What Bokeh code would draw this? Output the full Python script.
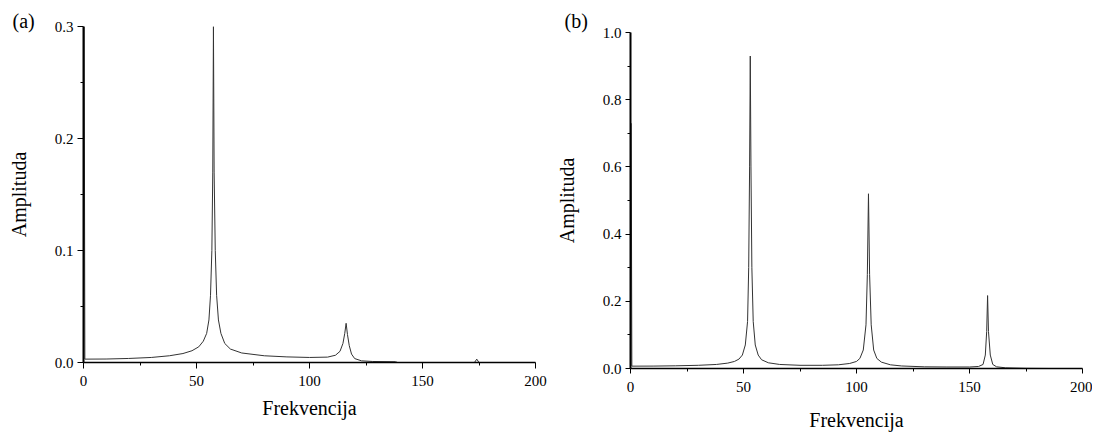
from bokeh.plotting import figure
from bokeh.layouts import row, column
from bokeh.models import Range1d, FixedTicker, Title, NumeralTickFormatter
from bokeh.embed import file_html
from bokeh.resources import INLINE

# ---------------- data ----------------
a_freq = [0.3, 0.6, 10, 20, 30, 38, 44, 48, 51, 53, 54.5, 55.5, 56.2, 56.8, 57.2, 57.5,
          57.8, 58.3, 58.9, 59.7, 60.8, 62.5, 65, 70, 80, 90, 100, 108, 111.5, 113.5,
          114.8, 115.6, 116.2, 116.8, 117.6, 118.6, 120, 123, 128, 138, 139, 173, 174,
          175, 200]
a_amp = [0.30, 0.0030, 0.0031, 0.0036, 0.0045, 0.0060, 0.0080, 0.0105, 0.0140, 0.0190,
         0.0260, 0.0380, 0.060, 0.100, 0.170, 0.300, 0.170, 0.100, 0.060, 0.038, 0.026,
         0.017, 0.012, 0.0085, 0.0060, 0.0050, 0.0045, 0.0048, 0.0065, 0.0100, 0.0170,
         0.0260, 0.0350, 0.0250, 0.0150, 0.0075, 0.0035, 0.0015, 0.0009, 0.0007, 0.0,
         0.0, 0.003, 0.0, 0.0]

b_freq = [0.3, 0.6, 10, 20, 30, 38, 43, 46, 48, 49.5, 50.8, 51.8, 52.3, 52.7, 53.0, 53.3,
          53.7, 54.3, 55.2, 56.5, 58, 61, 66, 75, 85, 92, 97, 100, 101.5, 103, 104.2,
          104.8, 105.3, 105.8, 106.5, 107.6, 109, 111, 115, 120, 130, 140, 150, 154, 156,
          157, 157.6, 158.0, 158.4, 159.2, 160.3, 162, 166, 175, 185, 200]
b_amp = [0.73, 0.007, 0.0072, 0.008, 0.0095, 0.012, 0.016, 0.021, 0.028, 0.040, 0.070,
         0.140, 0.300, 0.600, 0.930, 0.600, 0.300, 0.140, 0.070, 0.040, 0.026, 0.017,
         0.012, 0.0095, 0.0095, 0.011, 0.015, 0.021, 0.030, 0.055, 0.130, 0.280, 0.520,
         0.280, 0.130, 0.055, 0.030, 0.019, 0.011, 0.0075, 0.005, 0.0045, 0.0045, 0.006,
         0.012, 0.040, 0.110, 0.217, 0.110, 0.040, 0.012, 0.005, 0.002, 0.0005, 0.0, 0.0]

x_ticks = [0, 50, 100, 150, 200]
x_minor = [25, 75, 125, 175]
a_y_ticks = [0.0, 0.1, 0.2, 0.3]
a_y_minor = [0.05, 0.15, 0.25]
b_y_ticks = [0.0, 0.2, 0.4, 0.6, 0.8, 1.0]
b_y_minor = [0.1, 0.3, 0.5, 0.7, 0.9]
y_label_format = "0.0"

x_title = "Frekvencija"
y_title = "Amplituda"
panel_a = "(a)"
panel_b = "(b)"

FONT = "Liberation Serif"


def make(panel, poff, pstand, ymax, yt, ymin_t, bl, br, bt, bb, maj_out, min_out, xls,
         xstand, ystand):
    ttl = Title(text=panel, align="left", offset=poff, standoff=pstand,
                text_font=FONT, text_font_size="20px", text_font_style="normal",
                text_color="black")
    p = figure(title=ttl, frame_width=452, frame_height=336,
               x_range=Range1d(0, 200), y_range=Range1d(0, ymax),
               output_backend="svg", toolbar_location=None,
               min_border_left=bl, min_border_right=br, min_border_top=bt,
               min_border_bottom=bb)
    p.outline_line_color = None
    p.xgrid.visible = False
    p.ygrid.visible = False
    p.background_fill_color = "white"
    p.border_fill_color = "white"

    p.xaxis.ticker = FixedTicker(ticks=x_ticks, minor_ticks=x_minor)
    p.yaxis.ticker = FixedTicker(ticks=yt, minor_ticks=ymin_t)
    p.yaxis.formatter = NumeralTickFormatter(format=y_label_format)

    for ax in (p.xaxis[0], p.yaxis[0]):
        ax.axis_line_color = "black"
        ax.major_tick_line_color = "black"
        ax.minor_tick_line_color = "black"
        ax.major_tick_in = 0
        ax.minor_tick_in = 0
        ax.major_tick_out = maj_out
        ax.minor_tick_out = min_out
        ax.major_tick_line_width = 1
        ax.minor_tick_line_width = 1
        ax.major_label_text_font = FONT
        ax.major_label_text_font_size = "15px"
        ax.major_label_text_color = "black"
        ax.axis_label_text_font = FONT
        ax.axis_label_text_font_size = "20px"
        ax.axis_label_text_font_style = "normal"
        ax.axis_label_text_color = "black"
    p.xaxis.major_label_standoff = xls
    p.yaxis.major_label_standoff = 4
    p.xaxis.axis_line_width = 1.5
    p.yaxis.axis_line_width = 2
    p.xaxis.axis_label = x_title
    p.yaxis.axis_label = y_title
    p.xaxis.axis_label_standoff = xstand
    p.yaxis.axis_label_standoff = ystand
    return p


pa = make(panel_a, -71, -10, 0.3, a_y_ticks, a_y_minor, 83, 17, 26, 65, 6, 3, 7, 8, 22)
pa.line(a_freq, a_amp, line_color="#333333", line_width=1)

pb = make(panel_b, -66, 2, 1.0, b_y_ticks, b_y_minor, 75, 10, 32, 67, 5, 3, 8, 14, 22)
pb.line(b_freq, b_amp, line_color="#333333", line_width=1)

layout = row(column(pa), column(pb))
open("out.html", "w").write(file_html(layout, INLINE))
